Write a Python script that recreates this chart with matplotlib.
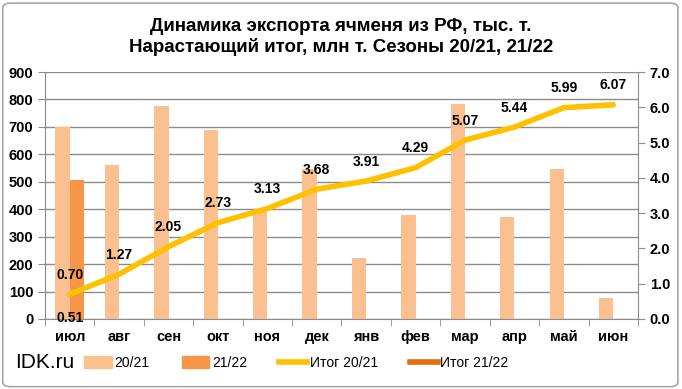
import matplotlib.pyplot as plt
from matplotlib.patches import FancyBboxPatch, Patch
from matplotlib.lines import Line2D
import numpy as np

plt.rcParams['font.family'] = ['Liberation Sans', 'DejaVu Sans']

months = ['июл', 'авг', 'сен', 'окт', 'ноя', 'дек', 'янв', 'фев', 'мар', 'апр', 'май', 'июн']
exp_2021 = [700, 562, 775, 690, 390, 548, 222, 378, 782, 372, 548, 75]
exp_2122 = [505]
total_2021 = [0.70, 1.27, 2.05, 2.73, 3.13, 3.68, 3.91, 4.29, 5.07, 5.44, 5.99, 6.07]
total_2122 = [0.51]

fig = plt.figure(figsize=(6.82, 3.89), dpi=100)
fig.patches.append(FancyBboxPatch((0.004, 0.006), 0.990, 0.986, boxstyle='round,pad=0,rounding_size=0.012',
                                  transform=fig.transFigure, fill=False, ec='#a6a6a6', lw=1.2))
ax = fig.add_axes([45/682, 1 - 319/389, 593/682, 247/389])
ax2 = ax.twinx()

x = np.arange(len(months))
w = 0.29
ax.bar(x - w/2, exp_2021, width=w, color='#FAC090', zorder=2)
ax.bar(x[:len(exp_2122)] + w/2, exp_2122, width=w, color='#F79646', zorder=2)

ax.set_xlim(-0.5, len(months) - 0.5)
ax.set_ylim(0, 900)
ax.set_yticks(range(0, 901, 100))
ax.yaxis.grid(True, color='#8c8c8c', lw=1)
ax.set_axisbelow(True)
ax.set_xticks(x)
ax.set_xticklabels(months, fontsize=10.5, fontweight='bold')
ax.set_xticks(np.arange(-0.5, len(months)), minor=True)
ax.tick_params(axis='x', which='major', length=0, pad=8)
ax.tick_params(axis='x', which='minor', length=5, color='#8c8c8c')
ax.tick_params(axis='y', length=5, color='#8c8c8c', labelsize=10.5)
for lab in ax.get_yticklabels():
    lab.set_fontweight('bold')
for s in ['top', 'right']:
    ax.spines[s].set_visible(False)
ax.spines['left'].set_color('#8c8c8c')
ax.spines['bottom'].set_color('#8c8c8c')

ax2.plot(x, total_2021, color='#FFC000', lw=4, solid_capstyle='round', zorder=3)
ax2.plot(x[:len(total_2122)], total_2122, color='#E46C0A', lw=4)
ax2.set_ylim(0, 7)
ax2.set_yticks(np.arange(0, 7.01, 1))
ax2.set_yticklabels([f'{v:.1f}' for v in np.arange(0, 7.01, 1)], fontsize=10.5, fontweight='bold')
ax2.tick_params(axis='y', length=5, color='#8c8c8c')
for s in ['top', 'left', 'bottom']:
    ax2.spines[s].set_visible(False)
ax2.spines['right'].set_color('#8c8c8c')

for xi, v in zip(x, total_2021):
    ax2.annotate(f'{v:.2f}', (xi, v), xytext=(0, 9), textcoords='offset points',
                 ha='center', va='bottom', fontsize=10, fontweight='bold')
for xi, v in zip(x, total_2122):
    ax2.annotate(f'{v:.2f}', (xi, v), xytext=(0, -7), textcoords='offset points',
                 ha='center', va='top', fontsize=10, fontweight='bold')

fig.text(0.5, 0.955, 'Динамика экспорта ячменя из РФ, тыс. т.\nНарастающий итог, млн т. Сезоны 20/21, 21/22',
         ha='center', va='top', fontsize=13.5, fontweight='bold', linespacing=1.25)
fig.text(15/682, 1 - 363/389, 'IDK.ru', fontsize=15, va='center', ha='left')

handles = [Patch(color='#FAC090'), Patch(color='#F79646'),
           Line2D([], [], color='#FFC000', lw=4), Line2D([], [], color='#E46C0A', lw=4)]
labels = ['20/21', '21/22', 'Итог 20/21', 'Итог 21/22']
fig.legend(handles, labels, loc='center left', bbox_to_anchor=(84/682, 1 - 363/389), ncol=4,
           frameon=False, fontsize=10, handlelength=2, handleheight=0.9, columnspacing=2.3,
           handletextpad=0.2, borderaxespad=0, borderpad=0)

fig.savefig('out.png', dpi=100)
